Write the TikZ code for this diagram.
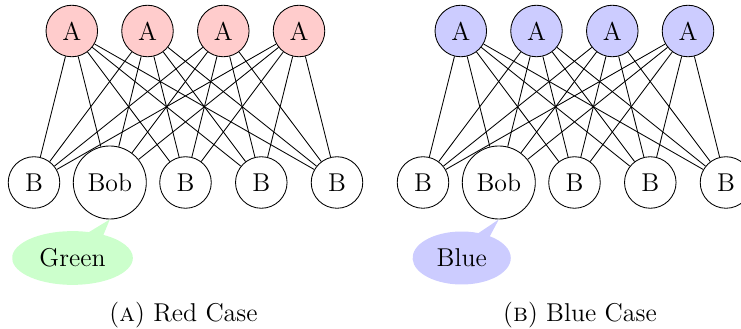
\documentclass[tikz,border=0pt]{standalone}
\usepackage{tikz}
\usetikzlibrary{shapes,positioning}

\begin{document}
\begin{tikzpicture}[x=0.4656pt, y=-0.4656pt, font=\large,
    anode/.style={draw, circle, minimum size=24pt},
    bnode/.style={draw, circle, minimum size=24pt},
    bobnode/.style={draw, circle, minimum size=34pt},
    tag/.style={ellipse callout, inner sep=4.5pt, callout absolute pointer={#1}}]
    \useasboundingbox (0,0) rectangle (741,329);

    % red case
    \node[anode, fill=red!20] (ra1) at (71.8,31) {A};
    \node[anode, fill=red!20] (ra2) at (147.5,31) {A};
    \node[anode, fill=red!20] (ra3) at (223.3,31) {A};
    \node[anode, fill=red!20] (ra4) at (299,31) {A};

    \node[bnode] (rb1) at (34,182.5) {B};
    \node[bobnode] (rb2) at (109.8,182.5) {Bob};
    \node[bnode] (rb3) at (185.5,182.5) {B};
    \node[bnode] (rb4) at (261.3,182.5) {B};
    \node[bnode] (rb5) at (337,182.5) {B};

    \foreach \i in {1,...,4}
        \foreach \j in {1,...,5}
            \draw (ra\i) -- (rb\j);

    \node[tag={(rb2.south)}, fill=green!20] (gtag) at (72.5,258) {Green};
    \node[anchor=base] (rcap) at (183.5,322) {(\textsc{a}) Red Case};

    % blue case
    \node[anode, fill=blue!20] (ba1) at (460.8,31) {A};
    \node[anode, fill=blue!20] (ba2) at (536.5,31) {A};
    \node[anode, fill=blue!20] (ba3) at (612.3,31) {A};
    \node[anode, fill=blue!20] (ba4) at (688,31) {A};

    \node[bnode] (bb1) at (423,182.5) {B};
    \node[bobnode] (bb2) at (498.8,182.5) {Bob};
    \node[bnode] (bb3) at (574.5,182.5) {B};
    \node[bnode] (bb4) at (650.3,182.5) {B};
    \node[bnode] (bb5) at (726,182.5) {B};

    \foreach \i in {1,...,4}
        \foreach \j in {1,...,5}
            \draw (ba\i) -- (bb\j);

    \node[tag={(bb2.south)}, fill=blue!20] (btag) at (461.7,258) {Blue};
    \node[anchor=base] (bcap) at (580,322) {(\textsc{b}) Blue Case};
\end{tikzpicture}
\end{document}
